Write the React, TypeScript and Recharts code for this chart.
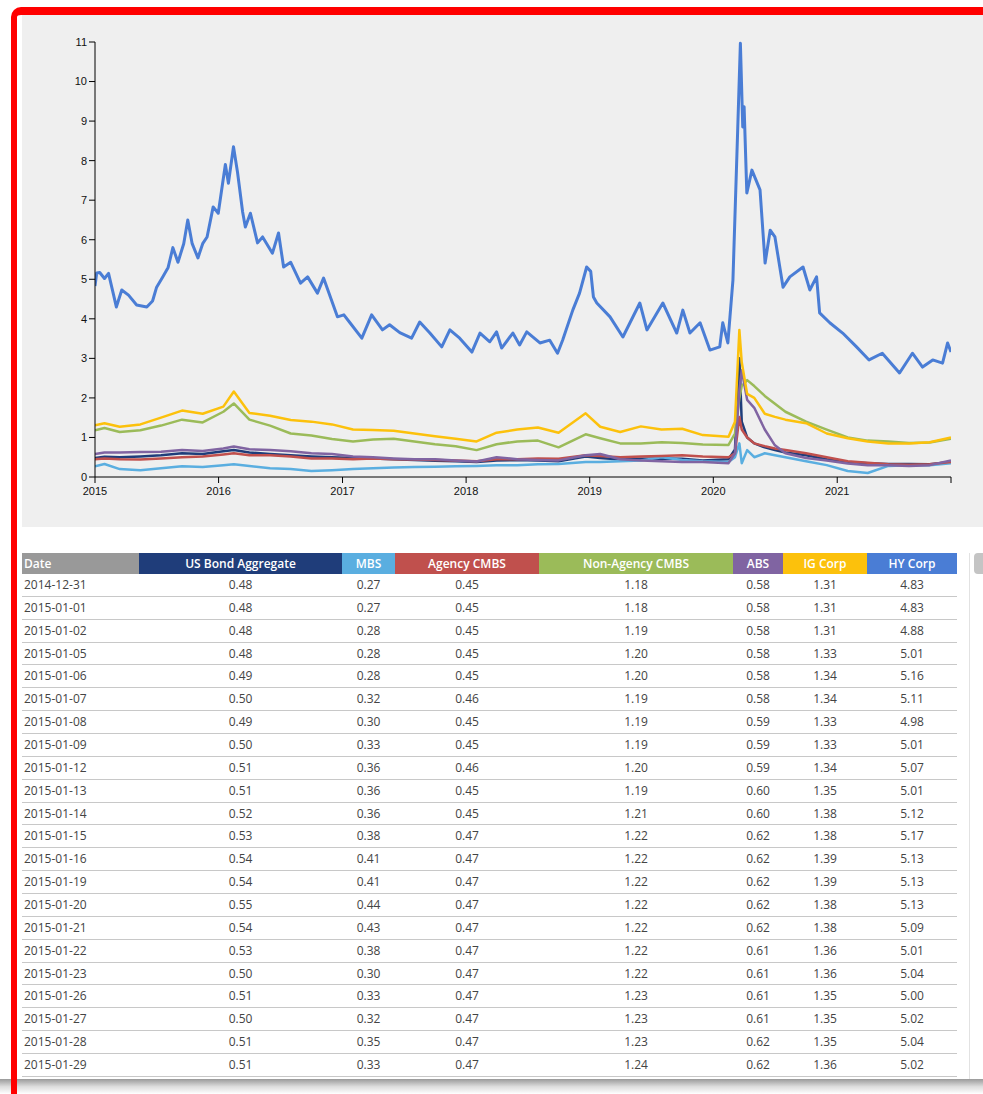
import React from 'react';
import { LineChart, Line, XAxis, YAxis } from 'recharts';

// ---------- chart data ----------
const lowDates = [
  '2015-01-01', '2015-01-29', '2015-03-15', '2015-05-15', '2015-07-15', '2015-09-15', '2015-11-15',
  '2016-01-15', '2016-02-15', '2016-04-01', '2016-06-01', '2016-08-01', '2016-10-01', '2016-12-01',
  '2017-02-01', '2017-04-01', '2017-06-01', '2017-08-01', '2017-10-01', '2017-12-01',
  '2018-02-01', '2018-04-01', '2018-06-01', '2018-08-01', '2018-10-01', '2018-12-20',
  '2019-02-01', '2019-04-01', '2019-06-01', '2019-08-01', '2019-10-01', '2019-12-01',
  '2020-02-15', '2020-03-05', '2020-03-18', '2020-03-25', '2020-04-10', '2020-05-01', '2020-06-01',
  '2020-07-01', '2020-08-01', '2020-10-01', '2020-12-01',
  '2021-02-01', '2021-04-01', '2021-06-01', '2021-08-01', '2021-10-01', '2021-12-03',
];
const usAgg = [
  0.48, 0.51, 0.50, 0.52, 0.55, 0.60, 0.58, 0.65, 0.68, 0.62,
  0.58, 0.55, 0.52, 0.50, 0.48, 0.47, 0.45, 0.43, 0.41, 0.40,
  0.38, 0.42, 0.43, 0.42, 0.40, 0.52, 0.48, 0.44, 0.46, 0.47,
  0.46, 0.42, 0.45, 0.70, 3.00, 1.40, 1.00, 0.85, 0.75, 0.68,
  0.62, 0.55, 0.45, 0.38, 0.35, 0.33, 0.33, 0.32, 0.38,
];
const mbs = [
  0.27, 0.33, 0.20, 0.17, 0.22, 0.27, 0.25, 0.30, 0.32, 0.28,
  0.22, 0.20, 0.15, 0.17, 0.20, 0.22, 0.24, 0.25, 0.26, 0.27,
  0.28, 0.30, 0.30, 0.32, 0.33, 0.38, 0.38, 0.40, 0.42, 0.50,
  0.43, 0.40, 0.38, 0.50, 0.85, 0.35, 0.68, 0.50, 0.60, 0.55,
  0.50, 0.40, 0.30, 0.15, 0.10, 0.28, 0.30, 0.30, 0.35,
];
const agencyCmbs = [
  0.45, 0.47, 0.45, 0.44, 0.47, 0.50, 0.52, 0.57, 0.60, 0.55,
  0.55, 0.52, 0.47, 0.47, 0.45, 0.47, 0.45, 0.44, 0.43, 0.42,
  0.40, 0.45, 0.45, 0.47, 0.46, 0.55, 0.53, 0.50, 0.52, 0.53,
  0.55, 0.52, 0.50, 0.60, 1.52, 1.20, 1.00, 0.85, 0.78, 0.72,
  0.68, 0.60, 0.50, 0.40, 0.36, 0.32, 0.31, 0.32, 0.38,
];
const nonAgencyCmbs = [
  1.18, 1.24, 1.14, 1.18, 1.30, 1.45, 1.38, 1.65, 1.86, 1.45,
  1.30, 1.10, 1.05, 0.96, 0.90, 0.95, 0.97, 0.90, 0.83, 0.78,
  0.68, 0.83, 0.90, 0.92, 0.75, 1.08, 0.98, 0.85, 0.85, 0.88,
  0.86, 0.82, 0.81, 1.10, 2.00, 2.30, 2.45, 2.30, 2.05, 1.85,
  1.65, 1.40, 1.20, 1.00, 0.92, 0.90, 0.86, 0.87, 0.97,
];
const abs = [
  0.58, 0.62, 0.62, 0.63, 0.64, 0.68, 0.66, 0.72, 0.77, 0.70,
  0.68, 0.65, 0.60, 0.58, 0.52, 0.50, 0.47, 0.45, 0.45, 0.42,
  0.39, 0.50, 0.45, 0.43, 0.42, 0.55, 0.58, 0.45, 0.42, 0.40,
  0.38, 0.38, 0.35, 0.60, 2.20, 2.70, 1.95, 1.75, 1.20, 0.80,
  0.60, 0.48, 0.42, 0.34, 0.30, 0.30, 0.28, 0.30, 0.42,
];
const igCorp = [
  1.31, 1.36, 1.27, 1.33, 1.50, 1.68, 1.60, 1.78, 2.16, 1.62,
  1.55, 1.44, 1.40, 1.33, 1.20, 1.19, 1.17, 1.10, 1.03, 0.97,
  0.90, 1.12, 1.20, 1.25, 1.12, 1.61, 1.27, 1.14, 1.28, 1.20,
  1.22, 1.06, 1.02, 1.40, 3.72, 2.90, 2.10, 2.00, 1.60, 1.52,
  1.45, 1.36, 1.10, 0.98, 0.90, 0.85, 0.85, 0.88, 1.00,
];

const hyDates = [
  '2015-01-01', '2015-01-06', '2015-01-15', '2015-01-29', '2015-02-10', '2015-02-25', '2015-03-05',
  '2015-03-21', '2015-04-10', '2015-05-04', '2015-06-03', '2015-06-20', '2015-07-02', '2015-07-20',
  '2015-08-05', '2015-08-19', '2015-09-03', '2015-09-20', '2015-10-02', '2015-10-15', '2015-11-01',
  '2015-11-15', '2015-11-28', '2015-12-16', '2015-12-31', '2016-01-21', '2016-01-30', '2016-02-14',
  '2016-02-26', '2016-03-12', '2016-03-20', '2016-04-04', '2016-04-25', '2016-05-10', '2016-06-08',
  '2016-06-26', '2016-07-11', '2016-08-01', '2016-08-30', '2016-09-20', '2016-10-19', '2016-11-06',
  '2016-12-17', '2017-01-05', '2017-01-23', '2017-02-27', '2017-03-28', '2017-04-29', '2017-05-20',
  '2017-06-19', '2017-07-24', '2017-08-17', '2017-09-16', '2017-10-21', '2017-11-14', '2017-12-13',
  '2018-01-18', '2018-02-11', '2018-03-12', '2018-04-01', '2018-04-16', '2018-05-19', '2018-06-08',
  '2018-06-29', '2018-08-07', '2018-09-05', '2018-09-28', '2018-10-13', '2018-11-12', '2018-12-02',
  '2018-12-23', '2019-01-04', '2019-01-12', '2019-01-22', '2019-03-02', '2019-04-09', '2019-05-29',
  '2019-06-19', '2019-08-05', '2019-09-15', '2019-10-03', '2019-10-24', '2019-11-23', '2019-12-22',
  '2020-01-20', '2020-01-29', '2020-02-13', '2020-02-28', '2020-03-13', '2020-03-21', '2020-03-28',
  '2020-04-01', '2020-04-09', '2020-04-24', '2020-05-18', '2020-06-02', '2020-06-17', '2020-07-01',
  '2020-07-25', '2020-08-14', '2020-09-22', '2020-10-12', '2020-11-01', '2020-11-10', '2020-12-10',
  '2021-01-17', '2021-02-27', '2021-04-05', '2021-05-14', '2021-07-04', '2021-08-11', '2021-09-10',
  '2021-10-10', '2021-11-08', '2021-11-23', '2021-12-03',
];
const hyCorp = [
  4.83, 5.16, 5.17, 5.02, 5.15, 4.6, 4.3,
  4.73, 4.6, 4.35, 4.3, 4.45, 4.8, 5.06,
  5.3, 5.8, 5.43, 5.9, 6.5, 5.9, 5.54,
  5.9, 6.07, 6.83, 6.67, 7.9, 7.43, 8.35,
  7.7, 6.7, 6.32, 6.67, 5.92, 6.07, 5.66,
  6.17, 5.31, 5.43, 4.9, 5.06, 4.65, 5.03,
  4.05, 4.1, 3.9, 3.51, 4.1, 3.72, 3.85,
  3.65, 3.51, 3.92, 3.64, 3.29, 3.72, 3.51,
  3.16, 3.64, 3.42, 3.67, 3.26, 3.64, 3.34,
  3.67, 3.39, 3.46, 3.13, 3.46, 4.22, 4.65,
  5.31, 5.2, 4.55, 4.4, 4.05, 3.54, 4.4,
  3.72, 4.4, 3.64, 4.22, 3.64, 3.9, 3.21,
  3.29, 3.9, 3.39, 4.98, 8.77, 10.97, 8.85,
  9.36, 7.18, 7.76, 7.26, 5.41, 6.24, 6.07,
  4.8, 5.06, 5.31, 4.73, 5.06, 4.15, 3.9,
  3.64, 3.29, 2.96, 3.13, 2.63, 3.13, 2.78,
  2.96, 2.88, 3.39, 3.16,
];

const yTicks = [0, 1, 2, 3, 4, 5, 6, 7, 8, 9, 10, 11];
const xYearTicks = ['2015-01-01', '2016-01-01', '2017-01-01', '2018-01-01', '2019-01-01', '2020-01-01', '2021-01-01'];
const xStart = '2015-01-01';
const xEnd = '2021-12-03';

// ---------- table data ----------
const tableHeaders = ['Date', 'US Bond Aggregate', 'MBS', 'Agency CMBS', 'Non-Agency CMBS', 'ABS', 'IG Corp', 'HY Corp'];
const tableDates = [
  '2014-12-31', '2015-01-01', '2015-01-02', '2015-01-05', '2015-01-06', '2015-01-07', '2015-01-08',
  '2015-01-09', '2015-01-12', '2015-01-13', '2015-01-14', '2015-01-15', '2015-01-16', '2015-01-19',
  '2015-01-20', '2015-01-21', '2015-01-22', '2015-01-23', '2015-01-26', '2015-01-27', '2015-01-28', '2015-01-29',
];
const tAgg = [0.48, 0.48, 0.48, 0.48, 0.49, 0.50, 0.49, 0.50, 0.51, 0.51, 0.52, 0.53, 0.54, 0.54, 0.55, 0.54, 0.53, 0.50, 0.51, 0.50, 0.51, 0.51];
const tMbs = [0.27, 0.27, 0.28, 0.28, 0.28, 0.32, 0.30, 0.33, 0.36, 0.36, 0.36, 0.38, 0.41, 0.41, 0.44, 0.43, 0.38, 0.30, 0.33, 0.32, 0.35, 0.33];
const tAgCmbs = [0.45, 0.45, 0.45, 0.45, 0.45, 0.46, 0.45, 0.45, 0.46, 0.45, 0.45, 0.47, 0.47, 0.47, 0.47, 0.47, 0.47, 0.47, 0.47, 0.47, 0.47, 0.47];
const tNonAg = [1.18, 1.18, 1.19, 1.20, 1.20, 1.19, 1.19, 1.19, 1.20, 1.19, 1.21, 1.22, 1.22, 1.22, 1.22, 1.22, 1.22, 1.22, 1.23, 1.23, 1.23, 1.24];
const tAbs = [0.58, 0.58, 0.58, 0.58, 0.58, 0.58, 0.59, 0.59, 0.59, 0.60, 0.60, 0.62, 0.62, 0.62, 0.62, 0.62, 0.61, 0.61, 0.61, 0.61, 0.62, 0.62];
const tIg = [1.31, 1.31, 1.31, 1.33, 1.34, 1.34, 1.33, 1.33, 1.34, 1.35, 1.38, 1.38, 1.39, 1.39, 1.38, 1.38, 1.36, 1.36, 1.35, 1.35, 1.35, 1.36];
const tHy = [4.83, 4.83, 4.88, 5.01, 5.16, 5.11, 4.98, 5.01, 5.07, 5.01, 5.12, 5.17, 5.13, 5.13, 5.13, 5.09, 5.01, 5.04, 5.00, 5.02, 5.04, 5.02];

// ---------- styles ----------
const colors = ['#999999', '#1f3d7a', '#5aaee0', '#c0504d', '#9bbb59', '#8064a2', '#fcc10c', '#4a7dd5'];
const colEdges = [22, 139, 342, 395, 539, 733, 783, 867, 957];
const HEADER_TOP = 553;
const HEADER_H = 21;
const ROW_H = 22.86;

const ts = (s: string) => {
  const [y, m, d] = s.split('-').map(Number);
  return Date.UTC(y, m - 1, d);
};

const lowData = lowDates.map((d, i) => ({
  t: ts(d), agg: usAgg[i], mbs: mbs[i], agc: agencyCmbs[i], nac: nonAgencyCmbs[i], abs: abs[i], ig: igCorp[i],
}));
const hyData = hyDates.map((d, i) => ({ t: ts(d), hy: hyCorp[i] }));
const xTicks = [...xYearTicks.map(ts), ts(xEnd)];
const endTs = ts(xEnd);

const axisFont = { fill: '#111', fontSize: 11, fontFamily: '"Liberation Sans", Arial, sans-serif' };

export default function App() {
  const tableCols = [tAgg, tMbs, tAgCmbs, tNonAg, tAbs, tIg, tHy];
  const lowKeys = ['agg', 'mbs', 'agc', 'nac', 'abs', 'ig'];
  return (
    <div style={{ position: 'absolute', left: 0, top: 0, width: 983, height: 1094, overflow: 'hidden', background: '#fff' }}>
      {/* bottom shadow */}
      <div style={{ position: 'absolute', left: 0, top: 1079, width: 983, height: 15, background: 'linear-gradient(to bottom, #9a9a9a, #dcdcdc 50%, #fff)' }} />
      {/* red frame */}
      <div style={{ position: 'absolute', left: 11, top: 7, width: 1100, height: 1200, borderLeft: '6px solid #ff0000', borderTop: '8px solid #ff0000', borderTopLeftRadius: 10, boxSizing: 'border-box' }} />
      {/* chart area */}
      <div style={{ position: 'absolute', left: 22, top: 15, width: 961, height: 512, background: '#efefef' }}>
        <LineChart width={961} height={512} margin={{ top: 27, right: 32, bottom: 20, left: 33 }}>
          <XAxis
            dataKey="t"
            type="number"
            domain={[ts(xStart), endTs]}
            allowDataOverflow
            ticks={xTicks}
            interval={0}
            tickFormatter={(v: number) => (v === endTs ? '' : String(new Date(v).getUTCFullYear()))}
            axisLine={{ stroke: '#000' }}
            tickLine={{ stroke: '#000' }}
            tick={axisFont}
            tickSize={6}
            tickMargin={4}
            height={30}
          />
          <YAxis
            type="number"
            domain={[0, 11]}
            ticks={yTicks}
            interval={0}
            axisLine={{ stroke: '#000' }}
            tickLine={{ stroke: '#000' }}
            tick={axisFont}
            tickSize={6}
            width={40}
          />
          {lowKeys.map((k, i) => (
            <Line
              key={k}
              data={lowData}
              dataKey={k}
              stroke={colors[i + 1]}
              strokeWidth={2.5}
              dot={false}
              activeDot={false}
              isAnimationActive={false}
              strokeLinejoin="round"
            />
          ))}
          <Line
            data={hyData}
            dataKey="hy"
            stroke={colors[7]}
            strokeWidth={3}
            dot={false}
            activeDot={false}
            isAnimationActive={false}
            strokeLinejoin="round"
          />
        </LineChart>
      </div>
      {/* table header */}
      {tableHeaders.map((h, i) => (
        <div
          key={h}
          style={{
            position: 'absolute', left: colEdges[i], top: HEADER_TOP, width: colEdges[i + 1] - colEdges[i], height: HEADER_H,
            background: colors[i], color: '#fff', fontFamily: '"Open Sans", sans-serif', fontSize: 12, fontWeight: 600,
            lineHeight: `${HEADER_H}px`, textAlign: i === 0 ? 'left' : 'center', paddingLeft: i === 0 ? 2 : 0, boxSizing: 'border-box',
            whiteSpace: 'nowrap',
          }}
        >
          {h}
        </div>
      ))}
      {/* table rows */}
      {tableDates.map((d, r) => (
        <div
          key={d}
          style={{
            position: 'absolute', left: 22, top: HEADER_TOP + HEADER_H + r * ROW_H, width: 935, height: ROW_H,
            borderBottom: '1px solid #c8c8c8', boxSizing: 'border-box',
            fontFamily: '"Open Sans", sans-serif', fontSize: 12, color: '#444', lineHeight: `${ROW_H}px`,
          }}
        >
          <div style={{ position: 'absolute', left: 2, top: 0 }}>{d}</div>
          {tableCols.map((col, c) => (
            <div
              key={c}
              style={{ position: 'absolute', left: colEdges[c + 1] - 22, top: 0, width: colEdges[c + 2] - colEdges[c + 1], textAlign: 'center' }}
            >
              {col[r].toFixed(2)}
            </div>
          ))}
        </div>
      ))}
      {/* scrollbar */}
      <div style={{ position: 'absolute', left: 969, top: 553, width: 1, height: 526, background: '#e2e2e2' }} />
      <div style={{ position: 'absolute', left: 974, top: 553, width: 14, height: 21, background: '#c4c4c4', borderRadius: 4 }} />
    </div>
  );
}
